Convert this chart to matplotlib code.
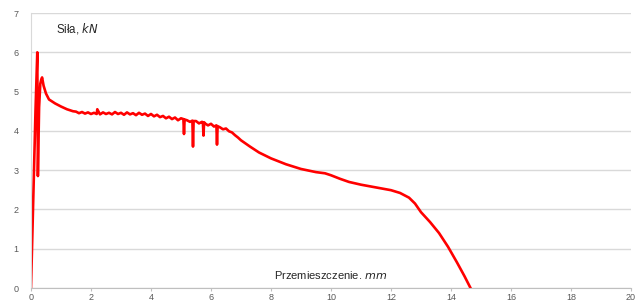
import matplotlib.pyplot as plt

# przemieszczenie [mm] / sila [kN]
disp = [0.0, 0.05, 0.1, 0.15, 0.21, 0.23, 0.27, 0.31, 0.34, 0.37, 0.42, 0.5, 0.6, 0.8,
        1.0, 1.2, 1.4,
        1.5, 1.6, 1.7, 1.8, 1.9, 2.0, 2.1, 2.19, 2.21, 2.3, 2.4, 2.5, 2.6, 2.7, 2.8, 2.9,
        3.0, 3.1, 3.2, 3.3, 3.4, 3.5, 3.6, 3.7, 3.8, 3.9, 4.0, 4.1, 4.2, 4.3, 4.4,
        4.5, 4.6, 4.7, 4.8, 4.9, 5.0, 5.08, 5.1, 5.12, 5.2, 5.3, 5.38, 5.4, 5.42,
        5.5, 5.6, 5.7, 5.73, 5.75, 5.77, 5.8, 5.9, 6.0, 6.1, 6.18, 6.2, 6.22, 6.3,
        6.4, 6.5, 6.6, 6.7, 6.8, 6.9, 7.0,
        7.3, 7.6, 8.0, 8.5, 9.0, 9.5, 9.8, 10.0, 10.3, 10.6, 11.0,
        11.5, 12.0, 12.3, 12.6, 12.8, 13.0, 13.3, 13.6, 13.9, 14.2, 14.45, 14.65]
force = [0.0, 1.5, 3.0, 4.5, 6.0, 2.85, 4.6, 5.2, 5.3, 5.36, 5.15, 4.95, 4.8, 4.7,
         4.62, 4.55, 4.5,
         4.49, 4.45, 4.48, 4.44, 4.47, 4.43, 4.46, 4.43, 4.55, 4.42, 4.47, 4.43, 4.46, 4.42, 4.48, 4.43,
         4.46, 4.41, 4.47, 4.42, 4.45, 4.40, 4.46, 4.41, 4.44, 4.38, 4.43, 4.37, 4.41, 4.35, 4.38,
         4.32, 4.36, 4.30, 4.34, 4.27, 4.32, 4.30, 3.92, 4.29, 4.27, 4.23, 4.26, 3.6, 4.25,
         4.25, 4.19, 4.23, 4.21, 3.88, 4.22, 4.19, 4.14, 4.18, 4.11, 4.14, 3.65, 4.12, 4.09,
         4.04, 4.06, 3.99, 3.96, 3.89, 3.83, 3.76,
         3.6, 3.45, 3.3, 3.15, 3.03, 2.95, 2.92, 2.87, 2.78, 2.7, 2.63,
         2.56, 2.49, 2.42, 2.3, 2.15, 1.93, 1.68, 1.4, 1.05, 0.65, 0.3, 0.0]

x_ticks = [0, 2, 4, 6, 8, 10, 12, 14, 16, 18, 20]
y_ticks = [0, 1, 2, 3, 4, 5, 6, 7]

plt.rcParams['font.family'] = ['Liberation Sans', 'DejaVu Sans']

fig = plt.figure(figsize=(6.39, 3.03), dpi=100)
ax = fig.add_axes([0.0485, 0.0495, 0.939, 0.9075])

ax.plot(disp, force, color='#ff0000', lw=1.9, solid_joinstyle='round')

ax.set_xlim(0, 20)
ax.set_ylim(0, 7)
ax.set_xticks(x_ticks)
ax.set_yticks(y_ticks)
ax.grid(axis='y', color='#d9d9d9', lw=1)
ax.set_axisbelow(True)
for s in ['top', 'right']:
    ax.spines[s].set_visible(False)
ax.spines['left'].set_color('#d9d9d9')
ax.spines['bottom'].set_color('#bfbfbf')
ax.tick_params(axis='x', colors='#bfbfbf', labelcolor='#595959', length=2.5, labelsize=6.5, pad=1)
ax.tick_params(axis='y', length=0, labelcolor='#595959', labelsize=6.5, pad=9)

ax.text(0.85, 6.6, r'Siła, $\it{kN}$', fontsize=8.3, color='#262626', va='center')
ax.text(10.0, 0.33, r'Przemieszczenie. $\it{mm}$', fontsize=8.0, color='#262626',
        va='center', ha='center')

fig.savefig('out.png', dpi=100)
